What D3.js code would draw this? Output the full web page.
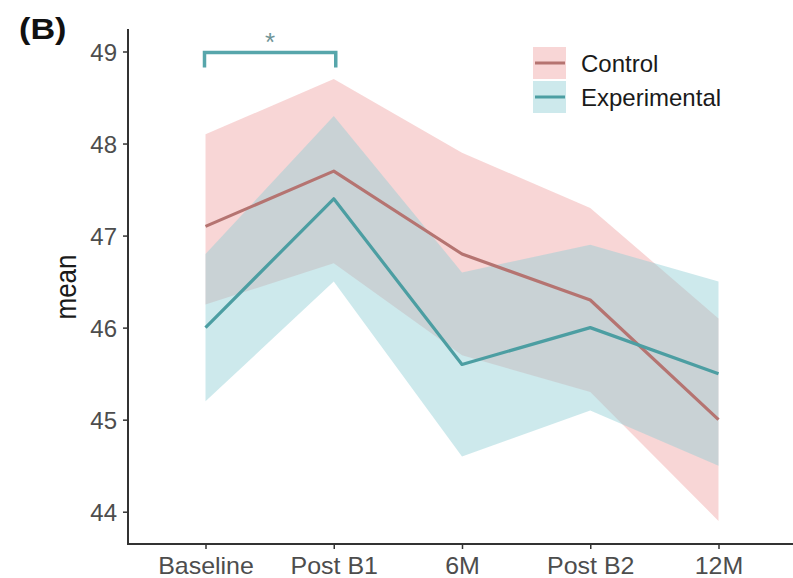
<!DOCTYPE html>
<html>
<head>
<meta charset="utf-8">
<script src="https://cdn.jsdelivr.net/npm/d3@7"></script>
<style>
  html, body { margin: 0; padding: 0; background: #ffffff; }
  svg { display: block; font-family: "Liberation Sans", Arial, sans-serif; }
</style>
</head>
<body>
<svg id="chart" width="793" height="578"></svg>
<script>
// ---- data ----
const timepoints = ["Baseline", "Post B1", "6M", "Post B2", "12M"];
const controlMean  = [47.1, 47.7, 46.8, 46.3, 45.0];
const controlLower = [46.25, 46.7, 45.7, 45.3, 43.9];
const controlUpper = [48.1, 48.7, 47.9, 47.3, 46.1];
const expMean  = [46.0, 47.4, 45.6, 46.0, 45.5];
const expLower = [45.2, 46.5, 44.6, 45.1, 44.5];
const expUpper = [46.8, 48.3, 46.6, 46.9, 46.5];
const yTicks = [44, 45, 46, 47, 48, 49];
const groups = ["Control", "Experimental"];
const sigPair = ["Baseline", "Post B1"];
const sigLevel = 49;
const sigLabel = "*";

// ---- layout ----
const svg = d3.select("#chart");
const axisLeftX = 128, axisBottomY = 544, axisTop = 29, axisRight = 793;

const x = d3.scalePoint().domain(timepoints).range([205.5, 718.5]);
const y = d3.scaleLinear().domain([44, 49]).range([511.7, 51.5]);

const colors = {
  Control: { fill: "#e87676", fillOpacity: 0.3, line: "#b57471" },
  Experimental: { fill: "#90ced5", fillOpacity: 0.45, line: "#4c9ea2" }
};

const series = [
  { name: "Control", mean: controlMean, lower: controlLower, upper: controlUpper },
  { name: "Experimental", mean: expMean, lower: expLower, upper: expUpper }
];

const area = d3.area()
  .x((d, i) => x(timepoints[i]))
  .y0(d => y(d.lo))
  .y1(d => y(d.hi));
const line = d3.line()
  .x((d, i) => x(timepoints[i]))
  .y(d => y(d));

// ribbons
series.forEach(s => {
  const pts = s.lower.map((lo, i) => ({ lo, hi: s.upper[i] }));
  svg.append("path")
    .attr("d", area(pts))
    .attr("fill", colors[s.name].fill)
    .attr("fill-opacity", colors[s.name].fillOpacity);
});
// lines
series.forEach(s => {
  svg.append("path")
    .attr("d", line(s.mean))
    .attr("fill", "none")
    .attr("stroke", colors[s.name].line)
    .attr("stroke-width", 3.2)
    .attr("stroke-linejoin", "round");
});

// axes
const yAxis = d3.axisLeft(y).tickValues(yTicks).tickSize(5).tickPadding(6).tickFormat(d3.format("d"));
const gy = svg.append("g").attr("transform", `translate(${axisLeftX},0)`).call(yAxis);
gy.select(".domain").remove();
gy.selectAll(".tick line").attr("stroke", "#333").attr("stroke-width", 1.5);
gy.selectAll(".tick text").attr("fill", "#4d4d4d").attr("font-size", 24)
  .attr("font-family", "Liberation Sans, Arial, sans-serif").attr("dy", "0.36em");

const xAxis = d3.axisBottom(x).tickSize(5).tickPadding(8);
const gx = svg.append("g").attr("transform", `translate(0,${axisBottomY})`).call(xAxis);
gx.select(".domain").remove();
gx.selectAll(".tick line").attr("stroke", "#333").attr("stroke-width", 1.5);
gx.selectAll(".tick text").attr("fill", "#4d4d4d").attr("font-size", 24)
  .attr("font-family", "Liberation Sans, Arial, sans-serif").attr("dy", "0.72em")
  .attr("transform", "scale(1.04,1)");

svg.append("line").attr("x1", axisLeftX).attr("x2", axisLeftX)
  .attr("y1", axisTop).attr("y2", axisBottomY + 1)
  .attr("stroke", "#333").attr("stroke-width", 2);
svg.append("line").attr("x1", axisLeftX - 1).attr("x2", axisRight)
  .attr("y1", axisBottomY).attr("y2", axisBottomY)
  .attr("stroke", "#333").attr("stroke-width", 2);

// y title
svg.append("text")
  .attr("transform", `translate(76,287) rotate(-90) scale(1,1.15)`)
  .attr("text-anchor", "middle")
  .attr("font-size", 26)
  .attr("fill", "#1a1a1a")
  .text("mean");

// panel label
svg.append("text")
  .attr("transform", "translate(19,39) scale(1.18,1)")
  .attr("font-size", 29).attr("font-weight", "bold")
  .attr("fill", "#111")
  .text("(B)");

// significance bracket
const bx0 = x(sigPair[0]) - 1, bx1 = x(sigPair[1]) + 2;
const by = y(sigLevel) + 1;
svg.append("path")
  .attr("d", `M${bx0},${by + 15}V${by}H${bx1}V${by + 15}`)
  .attr("fill", "none")
  .attr("stroke", "#57a6ab")
  .attr("stroke-width", 3.5);
svg.append("text")
  .attr("x", (bx0 + bx1) / 2).attr("y", by - 2)
  .attr("text-anchor", "middle")
  .attr("font-size", 26)
  .attr("fill", "#6f9497")
  .text(sigLabel);

// legend
const lg = svg.append("g").attr("transform", "translate(533,47)");
groups.forEach((g, i) => {
  const gy0 = i * 34;
  lg.append("rect").attr("x", 0).attr("y", gy0).attr("width", 33).attr("height", 32)
    .attr("fill", colors[g].fill).attr("fill-opacity", colors[g].fillOpacity);
  lg.append("line").attr("x1", 2).attr("x2", 32).attr("y1", gy0 + 16).attr("y2", gy0 + 16)
    .attr("stroke", colors[g].line).attr("stroke-width", 3);
  lg.append("text").attr("x", 48).attr("y", gy0 + 24.5)
    .attr("font-size", 24).attr("fill", "#1a1a1a").text(g);
});
</script>
</body>
</html>
